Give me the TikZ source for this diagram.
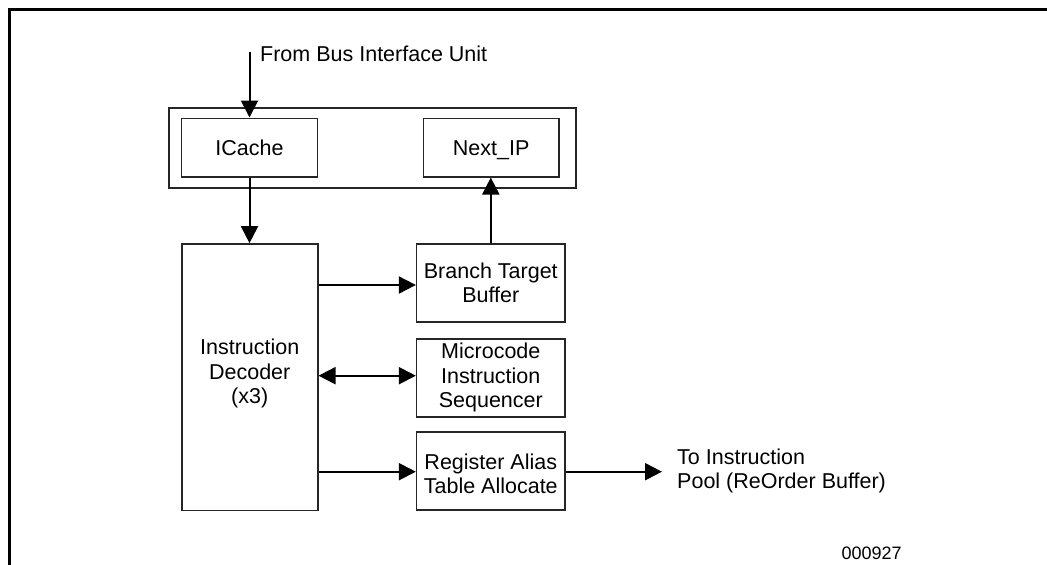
\documentclass[tikz,border=0pt]{standalone}
\usepackage{fontspec}
\setmainfont{Liberation Sans}
\usetikzlibrary{arrows.meta}
\begin{document}
\begin{tikzpicture}[x=1pt,y=-1pt,
  every node/.style={font=\fontsize{21.5}{24.5}\selectfont, inner sep=0pt},
  blk/.style={draw=black!85, line width=1.6pt, align=center},
  oneline/.style={text height=15pt, text depth=0pt},
  conn/.style={line width=2pt, -{Triangle[length=17pt,width=17pt]}},
  biconn/.style={line width=2pt, {Triangle[length=17pt,width=17pt]}-{Triangle[length=17pt,width=17pt]}}]
  \useasboundingbox (0,0) rectangle (1047,565);
  % page frame
  \draw[line width=2.2pt] (9.5,565) -- (9.5,9.5) -- (1047,9.5);

  % fetch unit enclosure
  \node[blk, minimum width=406.7pt, minimum height=80pt] (fetch) at (372.4,147.7) {};
  \node[blk, oneline, minimum width=135.7pt, minimum height=58.4pt] (icache) at (249.5,147.5) {ICache};
  \node[blk, oneline, minimum width=135.7pt, minimum height=58.4pt] (nextip) at (491.2,147.5) {Next\_IP};

  % decode stage
  \node[blk, minimum width=136pt, minimum height=266.7pt,
        label={[align=center, yshift=3.5pt]center:Instruction\\Decoder\\(x3)}] (dec) at (249.7,377.3) {};
  \node[blk, minimum width=148.3pt, minimum height=78pt] (btb) at (490.8,283) {Branch Target\\Buffer};
  \node[blk, minimum width=148.3pt, minimum height=78pt] (mis) at (490.8,377.7) {Microcode\\Instruction\\Sequencer};
  \node[blk, minimum width=148.3pt, minimum height=78pt,
        label={[align=center, yshift=-2.5pt]center:Register Alias\\Table Allocate}] (rat) at (490.8,471.2) {};

  % external labels
  \coordinate (biu) at (249.5,51.7);
  \node[anchor=west] (biulbl) at (260,54) {From Bus Interface Unit};
  \coordinate (rob) at (662,471.7);
  \node[anchor=west, align=left] (roblbl) at (677,471) {To Instruction\\Pool (ReOrder Buffer)};
  \node[font=\fontsize{18}{20}\selectfont] (fig) at (871.7,553) {000927};

  % connectors
  \draw[conn] (biu) -- (icache.north);
  \draw[conn] (icache.south) -- (dec.north -| icache.south);
  \draw[conn] (btb.north) -- (nextip.south -| btb.north);
  \draw[conn] (dec.east |- 0,285) -- (btb.west |- 0,285);
  \draw[biconn] (dec.east |- 0,375.7) -- (mis.west |- 0,375.7);
  \draw[conn] (dec.east |- 0,471.7) -- (rat.west |- 0,471.7);
  \draw[conn] (rat.east |- rob) -- (rob);
\end{tikzpicture}
\end{document}
